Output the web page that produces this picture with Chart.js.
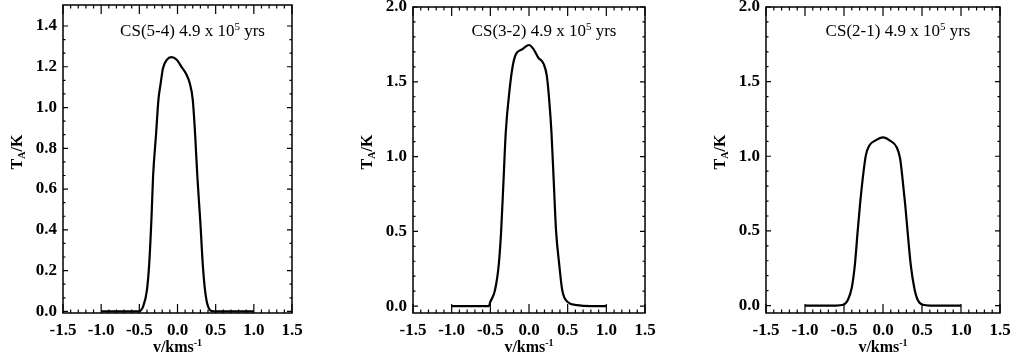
<!DOCTYPE html>
<html>
<head>
<meta charset="utf-8">
<script src="https://cdn.jsdelivr.net/npm/chart.js@4"></script>
<style>
body { margin: 0; background: #fff; overflow: hidden; }
.panel { position: absolute; top: 0; height: 362px; }
</style>
</head>
<body>
<div class="panel" style="left:0;width:310px"><canvas id="c54"></canvas></div>
<div class="panel" style="left:340px;width:320px"><canvas id="c32"></canvas></div>
<div class="panel" style="left:680px;width:333px"><canvas id="c21"></canvas></div>
<script>
var xTicks = [-1.5, -1.0, -0.5, 0.0, 0.5, 1.0, 1.5];

// CS(5-4)
var v54 = [-1.0, -0.8, -0.6, -0.51, -0.45, -0.40, -0.37, -0.34, -0.32, -0.28, -0.25, -0.22, -0.19, -0.14, -0.08, -0.01, 0.05, 0.12, 0.16, 0.20, 0.23, 0.26, 0.30, 0.33, 0.36, 0.40, 0.47, 0.6, 0.8, 1.0];
var t54 = [0, 0, 0, 0, 0.025, 0.106, 0.237, 0.466, 0.662, 0.874, 1.038, 1.12, 1.193, 1.234, 1.247, 1.234, 1.201, 1.16, 1.12, 1.038, 0.874, 0.662, 0.433, 0.237, 0.106, 0.025, 0, 0, 0, 0];
var yTicks54 = [0.0, 0.2, 0.4, 0.6, 0.8, 1.0, 1.2, 1.4];

// CS(3-2)
var v32 = [-1.0, -0.8, -0.6, -0.52, -0.50, -0.44, -0.39, -0.36, -0.33, -0.30, -0.25, -0.21, -0.17, -0.09, 0.0, 0.06, 0.12, 0.19, 0.23, 0.26, 0.29, 0.32, 0.35, 0.39, 0.43, 0.50, 0.62, 0.8, 1.0];
var t32 = [0, 0, 0, 0, 0.028, 0.106, 0.283, 0.503, 0.834, 1.166, 1.452, 1.607, 1.684, 1.717, 1.746, 1.717, 1.662, 1.618, 1.541, 1.386, 1.166, 0.834, 0.503, 0.283, 0.106, 0.028, 0.007, 0, 0];
var yTicks32 = [0.0, 0.5, 1.0, 1.5, 2.0];

// CS(2-1)
var v21 = [-1.0, -0.8, -0.6, -0.51, -0.445, -0.40, -0.36, -0.325, -0.295, -0.26, -0.22, -0.175, -0.10, 0.0, 0.09, 0.175, 0.22, 0.25, 0.285, 0.315, 0.355, 0.40, 0.44, 0.51, 0.6, 0.8, 1.0];
var t21 = [0, 0, 0, 0.005, 0.044, 0.121, 0.276, 0.497, 0.674, 0.851, 1.006, 1.072, 1.105, 1.127, 1.105, 1.061, 0.983, 0.851, 0.674, 0.497, 0.276, 0.121, 0.044, 0.005, 0, 0, 0];
var yTicks21 = [0.0, 0.5, 1.0, 1.5, 2.0];

var serif = '"Liberation Serif", "Times New Roman", serif';

// draw a run of text pieces, each with own size / vertical shift
function drawRich(ctx, parts, x, y, weight) {
    var total = 0;
    parts.forEach(function(p) {
        ctx.font = weight + ' ' + p.size + 'px ' + serif;
        p.w = ctx.measureText(p.t).width;
        total += p.w;
    });
    var cx = x - total / 2;
    parts.forEach(function(p) {
        ctx.font = weight + ' ' + p.size + 'px ' + serif;
        ctx.fillText(p.t, cx, y + (p.dy || 0));
        cx += p.w;
    });
}

var framePlugin = {
    id: 'frame',
    afterDraw: function(chart) {
        var o = chart.options.plugins.frame;
        var ctx = chart.ctx, a = chart.chartArea;
        var xs = chart.scales.x, ys = chart.scales.y;
        ctx.save();
        ctx.strokeStyle = '#000';
        ctx.fillStyle = '#000';
        ctx.lineWidth = 1.5;
        ctx.strokeRect(a.left, a.top, a.right - a.left, a.bottom - a.top);

        ctx.lineWidth = 1.2;
        ctx.beginPath();
        var xv = xs.ticks.map(function(t) { return t.value; });
        xv.forEach(function(v, i) {
            var px = xs.getPixelForValue(v);
            ctx.moveTo(px, a.bottom); ctx.lineTo(px, a.bottom - 9);
            ctx.moveTo(px, a.top); ctx.lineTo(px, a.top + 9);
            if (i < xv.length - 1) {
                for (var k = 1; k < o.xMinor; k++) {
                    var mx = xs.getPixelForValue(v + (xv[i + 1] - v) * k / o.xMinor);
                    ctx.moveTo(mx, a.bottom); ctx.lineTo(mx, a.bottom - 3.5);
                    ctx.moveTo(mx, a.top); ctx.lineTo(mx, a.top + 3.5);
                }
            }
        });
        var yv = ys.ticks.map(function(t) { return t.value; });
        yv.forEach(function(v, i) {
            var py = ys.getPixelForValue(v);
            ctx.moveTo(a.left, py); ctx.lineTo(a.left + 5, py);
            ctx.moveTo(a.right, py); ctx.lineTo(a.right - 5, py);
            if (i < yv.length - 1) {
                for (var k = 1; k < o.yMinor; k++) {
                    var my = ys.getPixelForValue(v + (yv[i + 1] - v) * k / o.yMinor);
                    ctx.moveTo(a.left, my); ctx.lineTo(a.left + 2.5, my);
                    ctx.moveTo(a.right, my); ctx.lineTo(a.right - 2.5, my);
                }
            }
        });
        ctx.stroke();

        ctx.textBaseline = 'middle';
        ctx.textAlign = 'left';
        // title inside plot
        var tx = (a.left + a.right) / 2 + 15;
        drawRich(ctx, [
            {t: o.line + ' 4.9 x 10', size: 17},
            {t: '5', size: 11, dy: -5},
            {t: ' yrs', size: 17}
        ], tx, 32, 'normal');

        // x axis title
        drawRich(ctx, [
            {t: 'v/kms', size: 16},
            {t: '-1', size: 10, dy: -5}
        ], (a.left + a.right) / 2, 348, 'bold');

        // y axis title, rotated
        ctx.save();
        ctx.translate(a.left - 45, 152);
        ctx.rotate(-Math.PI / 2);
        drawRich(ctx, [
            {t: 'T', size: 16},
            {t: 'A', size: 10, dy: 4},
            {t: '/K', size: 16}
        ], 0, 0, 'bold');
        ctx.restore();
        ctx.restore();
    }
};

function makeChart(id, vel, temp, yTicks, yMin, yMax, yMinor, line, leftW, padTop, padRight) {
    var pts = vel.map(function(v, i) { return {x: v, y: temp[i]}; });
    return new Chart(document.getElementById(id).getContext('2d'), {
        type: 'line',
        data: {
            datasets: [{
                data: pts,
                borderColor: '#000',
                borderWidth: 2.2,
                pointRadius: 0,
                fill: false,
                cubicInterpolationMode: 'monotone'
            }]
        },
        options: {
            responsive: true,
            maintainAspectRatio: false,
            animation: false,
            layout: { padding: { top: padTop, right: padRight, bottom: 0, left: 0 } },
            plugins: {
                legend: { display: false },
                tooltip: { enabled: false },
                frame: { line: line, xMinor: 5, yMinor: yMinor }
            },
            scales: {
                x: {
                    type: 'linear',
                    min: -1.5,
                    max: 1.5,
                    grid: { display: false, drawTicks: false },
                    border: { display: false },
                    afterBuildTicks: function(s) { s.ticks = xTicks.map(function(v) { return {value: v}; }); },
                    afterFit: function(s) { s.height = 49; s.paddingLeft = 0; s.paddingRight = 0; },
                    ticks: {
                        padding: 7,
                        color: '#000',
                        maxRotation: 0,
                        autoSkip: false,
                        font: { family: serif, size: 17, weight: 'bold' },
                        callback: function(v) { return v.toFixed(1); }
                    }
                },
                y: {
                    min: yMin,
                    max: yMax,
                    grid: { display: false, drawTicks: false },
                    border: { display: false },
                    afterBuildTicks: function(s) { s.ticks = yTicks.map(function(v) { return {value: v}; }); },
                    afterFit: function(s) { s.width = leftW; s.paddingTop = 0; s.paddingBottom = 0; },
                    ticks: {
                        padding: 6,
                        color: '#000',
                        autoSkip: false,
                        font: { family: serif, size: 17, weight: 'bold' },
                        callback: function(v) { return v.toFixed(1); }
                    }
                }
            }
        },
        plugins: [framePlugin]
    });
}

makeChart('c54', v54, t54, yTicks54, -0.008, 1.503, 3, 'CS(5-4)', 63, 5, 18);
makeChart('c32', v32, t32, yTicks32, -0.046, 2.0, 5, 'CS(3-2)', 73, 7, 15);
makeChart('c21', v21, t21, yTicks21, -0.05, 2.0, 5, 'CS(2-1)', 86, 7, 13);
</script>
</body>
</html>
